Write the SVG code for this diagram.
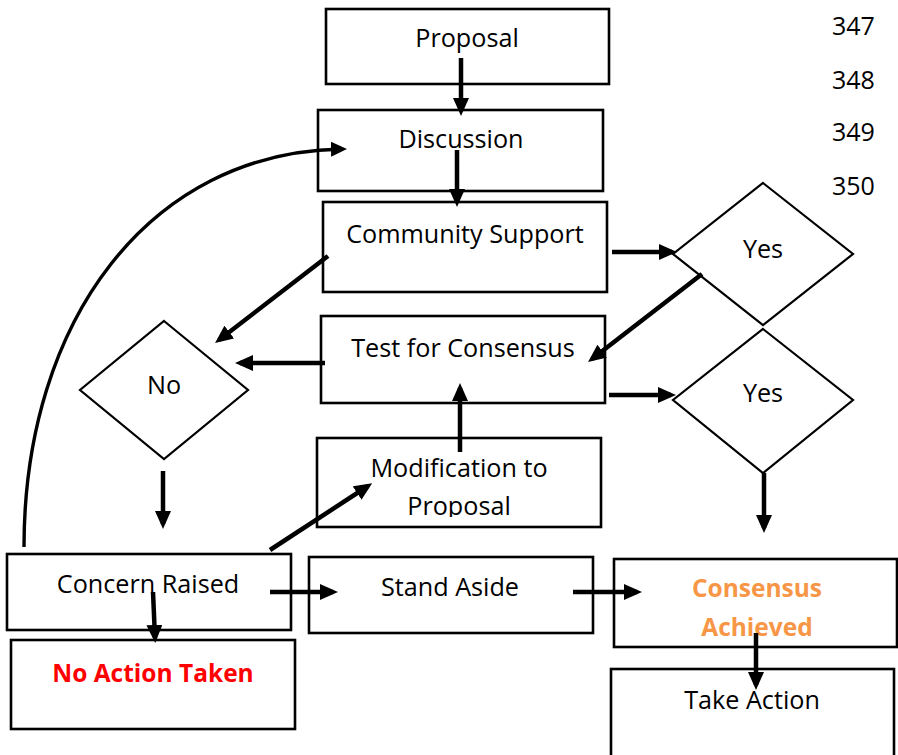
<svg xmlns="http://www.w3.org/2000/svg" width="898" height="755" viewBox="0 0 898 755">
  <style>
    .box { fill: #ffffff; stroke: #000000; stroke-width: 2.6; }
    .dia { fill: none; stroke: #000000; stroke-width: 2.2; }
    .lbl { font-family: "Open Sans", "Liberation Sans", sans-serif; font-size: 25.2px; fill: #000000; text-anchor: middle; }
    .num { font-family: "Open Sans", "Liberation Sans", sans-serif; font-size: 25px; fill: #000000; }
    .red { font-weight: bold; font-size: 24.5px; fill: #ff0000; }
    .orange { font-weight: bold; font-size: 24.5px; fill: #f79646; }
    .arrow { fill: none; stroke: #000000; stroke-width: 4.5; marker-end: url(#head); }
    .loop { fill: none; stroke: #000000; stroke-width: 3.4; marker-end: url(#headSmall); }
  </style>
  <defs>
    <marker id="head" viewBox="0 0 18 16" refX="13" refY="8" markerWidth="18" markerHeight="16" markerUnits="userSpaceOnUse" orient="auto">
      <path d="M0,0 L18,8 L0,16 z" fill="#000000"/>
    </marker>
    <marker id="headSmall" viewBox="0 0 16 15" refX="11" refY="7.5" markerWidth="16" markerHeight="15" markerUnits="userSpaceOnUse" orient="auto">
      <path d="M0,0 L16,7.5 L0,15 z" fill="#000000"/>
    </marker>
    <clipPath id="modClip">
      <rect x="317" y="438" width="284" height="79"/>
    </clipPath>
  </defs>

  <rect width="898" height="755" fill="#ffffff"/>

  <!-- line numbers in the margin -->
  <g id="line-numbers">
    <text class="num" x="832" y="35">347</text>
    <text class="num" x="832" y="89">348</text>
    <text class="num" x="832" y="141">349</text>
    <text class="num" x="832" y="195">350</text>
  </g>

  <g id="proposal">
    <rect class="box" x="326" y="9" width="283" height="75"/>
    <text class="lbl" x="467" y="47">Proposal</text>
  </g>

  <g id="discussion">
    <rect class="box" x="318" y="110" width="285" height="81"/>
    <text class="lbl" x="461" y="148">Discussion</text>
  </g>

  <g id="community-support">
    <rect class="box" x="323" y="202" width="284" height="90"/>
    <text class="lbl" x="465" y="243">Community Support</text>
  </g>

  <g id="test-consensus">
    <rect class="box" x="321" y="316" width="284" height="87"/>
    <text class="lbl" x="463" y="357">Test for Consensus</text>
  </g>

  <g id="modification">
    <rect class="box" x="317" y="438" width="284" height="89"/>
    <g clip-path="url(#modClip)">
      <text class="lbl" x="459" y="477">Modification to</text>
      <text class="lbl" x="459" y="515">Proposal</text>
    </g>
  </g>

  <g id="no">
    <polygon class="dia" points="164,321 248,390 164,459 80,390"/>
    <text class="lbl" x="164" y="394">No</text>
  </g>

  <g id="yes-support">
    <polygon class="dia" points="763,183 853,254 763,325 673,254"/>
    <text class="lbl" x="763" y="258">Yes</text>
  </g>

  <g id="yes-test">
    <polygon class="dia" points="763,329 853,400 763,473 673,400"/>
    <text class="lbl" x="763" y="402">Yes</text>
  </g>

  <g id="concern-raised">
    <rect class="box" x="7" y="554" width="284" height="76"/>
    <text class="lbl" x="148" y="593">Concern Raised</text>
  </g>

  <g id="no-action">
    <rect class="box" x="11" y="640" width="284" height="89"/>
    <text class="lbl red" x="153" y="682">No Action Taken</text>
  </g>

  <g id="stand-aside">
    <rect class="box" x="309" y="557" width="284" height="76"/>
    <text class="lbl" x="450" y="596">Stand Aside</text>
  </g>

  <g id="consensus-achieved">
    <rect class="box" x="614" y="559" width="283" height="88"/>
    <text class="lbl orange" x="757" y="597">Consensus</text>
    <text class="lbl orange" x="757" y="636">Achieved</text>
  </g>

  <g id="take-action">
    <rect class="box" x="611" y="669" width="283" height="100"/>
    <text class="lbl" x="752" y="709">Take Action</text>
  </g>

  <g id="connectors">
    <line class="arrow" x1="461" y1="58" x2="461" y2="111"/>
    <line class="arrow" x1="457" y1="150" x2="457" y2="202"/>
    <line class="arrow" x1="612" y1="252" x2="672" y2="252"/>
    <line class="arrow" x1="328" y1="256" x2="219" y2="340"/>
    <line class="arrow" x1="325" y1="363" x2="240" y2="363"/>
    <line class="arrow" x1="702" y1="274" x2="592" y2="359"/>
    <line class="arrow" x1="609" y1="395" x2="671" y2="395"/>
    <line class="arrow" x1="460" y1="452" x2="460" y2="388"/>
    <line class="arrow" x1="163" y1="471" x2="163" y2="524"/>
    <line class="arrow" x1="764" y1="473" x2="764" y2="528"/>
    <line class="arrow" x1="270" y1="550" x2="368" y2="486"/>
    <line class="arrow" x1="270" y1="592" x2="333" y2="592"/>
    <line class="arrow" x1="573" y1="592" x2="637" y2="592"/>
    <line class="arrow" x1="153" y1="592" x2="155" y2="638"/>
    <line class="arrow" x1="756" y1="633" x2="756" y2="685"/>
    <path class="loop" d="M24,547 C24,320 150,152 342,149"/>
  </g>
</svg>
